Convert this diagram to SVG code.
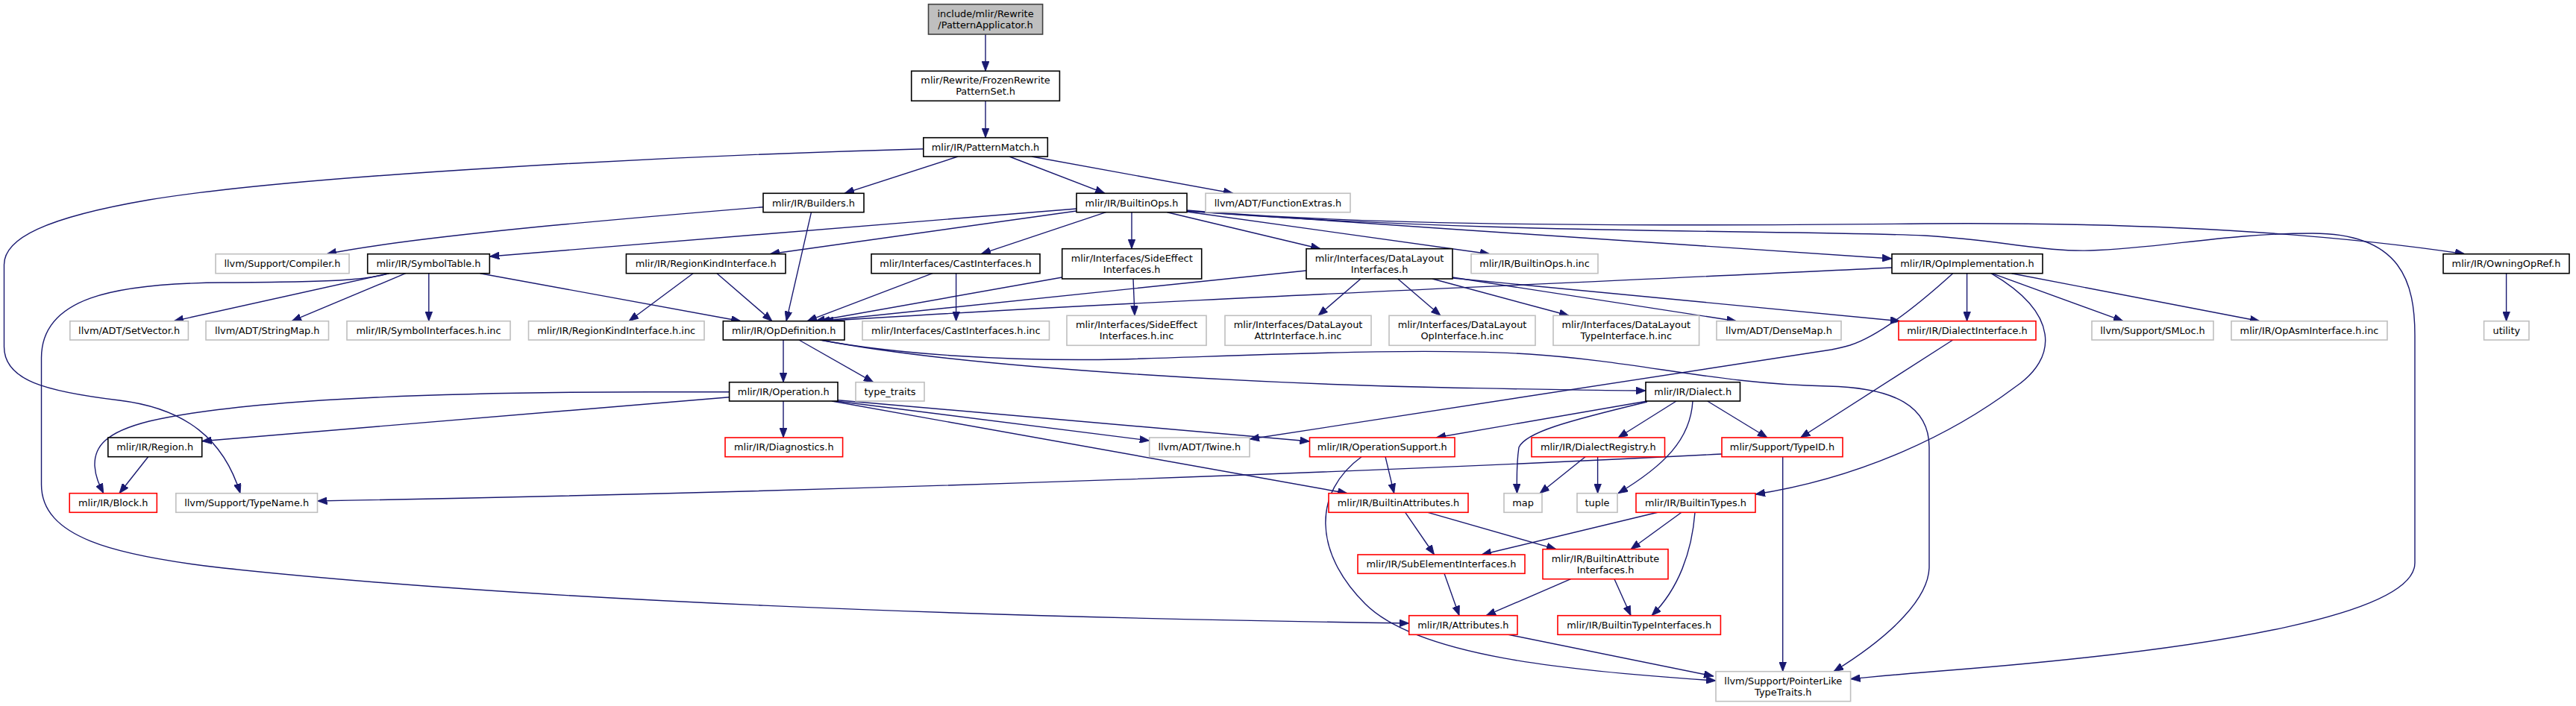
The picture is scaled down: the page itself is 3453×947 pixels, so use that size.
<svg xmlns="http://www.w3.org/2000/svg" width="3453" height="947" viewBox="0 0 3453 947">
<defs>
<style>
rect{fill:#ffffff;stroke:#000000;stroke-width:1.6}
.g rect{stroke:#bfbfbf}
.r rect{stroke:#ff0000}
.root rect{fill:#bfbfbf;stroke:#404040}
text{font-family:"DejaVu Sans","Liberation Sans",sans-serif;font-size:12.9px;text-anchor:middle;fill:#000000}
#edges path{fill:none;stroke:#191970;stroke-width:1.4;marker-end:url(#a)}
</style>
<marker id="a" markerUnits="userSpaceOnUse" markerWidth="13" markerHeight="10" refX="13" refY="5" orient="auto" viewBox="0 0 13 10"><path d="M0,0 L13,5 L0,10 z" fill="#191970" stroke="#191970" stroke-width="0.8"/></marker>
</defs>
<rect x="0" y="0" width="3453" height="947" style="fill:#ffffff;stroke:none"/>
<g id="edges">
<path d="M1321,46 L1321,95.3"/>
<path d="M1321,135.3 L1321,184.7"/>
<path d="M1284,210 L1132,259.3"/>
<path d="M1353,210 L1481,259.3"/>
<path d="M1383,210 L1653,259.3"/>
<path d="M1238,199.7 C900,209 400,235 200,268 C60,292 5.5,320 5.5,355 L5.5,465 C5.5,510 60,525 160,537 C250,548 300,590 322,661.7"/>
<path d="M1023,277.7 C850,292 560,316 438,340.7"/>
<path d="M1087.5,284.7 L1054,430.7"/>
<path d="M1443,280 L656.3,344"/>
<path d="M1443,283 L1032,340.7"/>
<path d="M1482.5,284.7 L1315,340.7"/>
<path d="M1517,284.7 L1517,333.7"/>
<path d="M1564.6,284.7 L1770,333.7"/>
<path d="M1591,284 L1997,340.7"/>
<path d="M1591,283 C1900,305 2300,330 2536,347"/>
<path d="M1591,282 C1800,300 2100,305 2580,300 C2850,298 3100,310 3304,340.7"/>
<path d="M1591,283 C2000,315 2400,308 2580,316 C2680,322 2740,338 2802,336 C2900,333 2980,313 3100,313 C3220,313 3237,380 3237,450 L3237,755 C3237,820 3000,870 2580,901.7 C2540,905 2510,908 2480.6,910.7"/>
<path d="M521.5,366.7 L233,430.7"/>
<path d="M543.7,366.7 L391,430.7"/>
<path d="M574.8,366.7 L574.8,430.7"/>
<path d="M643.6,366.7 L993,430.7"/>
<path d="M521.5,366.7 C490,376 450,378 300,379 C150,380 55.5,400 55.5,480 L55.5,650 C55.5,720 150,745 300,762 C700,805 1300,828 1888.7,836"/>
<path d="M929,366.7 L843,430.7"/>
<path d="M961,366.7 L1035,430.7"/>
<path d="M1250,366.7 L1082,430.7"/>
<path d="M1281.6,366.7 L1281.6,430.7"/>
<path d="M1423.7,372 L1093,430.7"/>
<path d="M1519,374 L1521,423.3"/>
<path d="M1751,363 L1099,430.7"/>
<path d="M1824,374 L1767,423.3"/>
<path d="M1873.7,374 L1931,423.3"/>
<path d="M1920,374 L2103,423.3"/>
<path d="M1947,372 L2327.5,430.7"/>
<path d="M1947,373 L2547,430.7"/>
<path d="M2536,359 C2100,380 1500,405 1104,430.7"/>
<path d="M2636.6,366.7 L2636.6,430.7"/>
<path d="M2670,366.7 L2846,430.7"/>
<path d="M2696.5,366.7 L3029,430.7"/>
<path d="M2617.7,366.7 C2570,410 2520,450 2480,463 C2470,466 2465,467 2455,469 L1675,589"/>
<path d="M2669,366.7 C2760,420 2760,480 2700,520 C2620,580 2500,640 2353,663"/>
<path d="M3359.6,366.7 L3359.6,430.7"/>
<path d="M1050,456 L1050,512.7"/>
<path d="M1071,456 L1170.7,512.7"/>
<path d="M1100,456 C1300,495 1700,515 1942,520 C2050,522 2150,524 2206,524"/>
<path d="M1099,456 C1200,475 1350,485 1500,482 C1700,476 1900,466 2050,475 C2200,485 2300,515 2450,518 C2540,520 2586,545 2586,600 L2586,760 C2586,800 2540,850 2458,900.7"/>
<path d="M1050,538 L1050,587"/>
<path d="M977.6,532.7 L270.7,591.7"/>
<path d="M977.6,525.7 L870,525.7 C600,526 330,535 200,565 C140,580 126,600 127,625 C128,640 133,650 138.7,661.7"/>
<path d="M1121,538 L1540.7,591"/>
<path d="M1115,538 L1806,661.7"/>
<path d="M1123,536.7 L1755.5,592"/>
<path d="M2208,538 L1925,587"/>
<path d="M2208,539 C2100,565 2045,580 2036,600 C2033,620 2033,640 2033.5,661.7"/>
<path d="M2247,538 L2169,587"/>
<path d="M2269,538 C2266,590 2230,625 2169,661.7"/>
<path d="M2288.7,538 L2369,587"/>
<path d="M2617.7,456 L2413.5,587"/>
<path d="M2308,609 C1900,630 1200,658 425.5,672"/>
<path d="M2389.7,612.7 L2389.7,900.7"/>
<path d="M2125,612.7 L2064,661.7"/>
<path d="M2141.6,612.7 L2141.6,661.7"/>
<path d="M1857,612.7 L1868.7,661.7"/>
<path d="M1825,612.7 C1760,660 1760,740 1830,810 C1900,880 2100,900 2300,913"/>
<path d="M1883.7,687.3 L1922.5,744"/>
<path d="M1914,687.3 L2086,736.7"/>
<path d="M2222,687.3 L1986,744"/>
<path d="M2254,687.3 L2186,736.7"/>
<path d="M2272,687.3 C2268,740 2250,790 2214,825.7"/>
<path d="M1936,769.3 L1956,825.7"/>
<path d="M2105.6,776.7 L1992,825.7"/>
<path d="M2164,776.7 L2186,825.7"/>
<path d="M2022,851.3 L2297,907"/>
<path d="M198.6,612.7 L160,661.7"/>
</g>
<g id="n1" class="root"><rect x="1244.5" y="5.7" width="153.1" height="40.3"/><text x="1321.05" y="22.7">include/mlir/Rewrite</text><text x="1321.05" y="38">/PatternApplicator.h</text></g>
<g id="n2"><rect x="1221.7" y="95.3" width="198.7" height="40"/><text x="1321.05" y="112.15">mlir/Rewrite/FrozenRewrite</text><text x="1321.05" y="127.45">PatternSet.h</text></g>
<g id="n3"><rect x="1237.8" y="184.7" width="166.5" height="25.3"/><text x="1321.05" y="201.85">mlir/IR/PatternMatch.h</text></g>
<g id="n4"><rect x="1023" y="259.3" width="135" height="25.4"/><text x="1090.5" y="276.5">mlir/IR/Builders.h</text></g>
<g id="n5"><rect x="1443" y="259.3" width="148" height="25.4"/><text x="1517" y="276.5">mlir/IR/BuiltinOps.h</text></g>
<g id="n6" class="g"><rect x="1616" y="259.3" width="194" height="25.4"/><text x="1713" y="276.5">llvm/ADT/FunctionExtras.h</text></g>
<g id="n7" class="g"><rect x="289" y="340.7" width="179" height="26"/><text x="378.5" y="358.2">llvm/Support/Compiler.h</text></g>
<g id="n8"><rect x="492.7" y="340.7" width="163.6" height="26"/><text x="574.5" y="358.2">mlir/IR/SymbolTable.h</text></g>
<g id="n9"><rect x="839.4" y="340.7" width="213.6" height="26"/><text x="946.2" y="358.2">mlir/IR/RegionKindInterface.h</text></g>
<g id="n10"><rect x="1168" y="340.7" width="226" height="26"/><text x="1281" y="358.2">mlir/Interfaces/CastInterfaces.h</text></g>
<g id="n11"><rect x="1423.7" y="333.7" width="187" height="40.3"/><text x="1517.2" y="350.7">mlir/Interfaces/SideEffect</text><text x="1517.2" y="366">Interfaces.h</text></g>
<g id="n12"><rect x="1751" y="333.7" width="196" height="40.3"/><text x="1849" y="350.7">mlir/Interfaces/DataLayout</text><text x="1849" y="366">Interfaces.h</text></g>
<g id="n13" class="g"><rect x="1972" y="340.7" width="170" height="26"/><text x="2057" y="358.2">mlir/IR/BuiltinOps.h.inc</text></g>
<g id="n14"><rect x="2536" y="340.7" width="202" height="26"/><text x="2637" y="358.2">mlir/IR/OpImplementation.h</text></g>
<g id="n15"><rect x="3275" y="340.7" width="169" height="26"/><text x="3359.5" y="358.2">mlir/IR/OwningOpRef.h</text></g>
<g id="n16" class="g"><rect x="93.8" y="430.7" width="158.6" height="25.3"/><text x="173.1" y="447.85">llvm/ADT/SetVector.h</text></g>
<g id="n17" class="g"><rect x="276" y="430.7" width="164.5" height="25.3"/><text x="358.25" y="447.85">llvm/ADT/StringMap.h</text></g>
<g id="n18" class="g"><rect x="465" y="430.7" width="219" height="25.3"/><text x="574.5" y="447.85">mlir/IR/SymbolInterfaces.h.inc</text></g>
<g id="n19" class="g"><rect x="708.5" y="430.7" width="235.5" height="25.3"/><text x="826.25" y="447.85">mlir/IR/RegionKindInterface.h.inc</text></g>
<g id="n20"><rect x="969.3" y="430.7" width="162.7" height="25.3"/><text x="1050.65" y="447.85">mlir/IR/OpDefinition.h</text></g>
<g id="n21" class="g"><rect x="1156" y="430.7" width="250.5" height="25.3"/><text x="1281.25" y="447.85">mlir/Interfaces/CastInterfaces.h.inc</text></g>
<g id="n22" class="g"><rect x="1430" y="423.3" width="187" height="40"/><text x="1523.5" y="440.15">mlir/Interfaces/SideEffect</text><text x="1523.5" y="455.45">Interfaces.h.inc</text></g>
<g id="n23" class="g"><rect x="1642" y="423.3" width="196" height="40"/><text x="1740" y="440.15">mlir/Interfaces/DataLayout</text><text x="1740" y="455.45">AttrInterface.h.inc</text></g>
<g id="n24" class="g"><rect x="1862" y="423.3" width="196" height="40"/><text x="1960" y="440.15">mlir/Interfaces/DataLayout</text><text x="1960" y="455.45">OpInterface.h.inc</text></g>
<g id="n25" class="g"><rect x="2082" y="423.3" width="195.6" height="40"/><text x="2179.8" y="440.15">mlir/Interfaces/DataLayout</text><text x="2179.8" y="455.45">TypeInterface.h.inc</text></g>
<g id="n26" class="g"><rect x="2301" y="430.7" width="167" height="25.3"/><text x="2384.5" y="447.85">llvm/ADT/DenseMap.h</text></g>
<g id="n27" class="r"><rect x="2545" y="430.7" width="184" height="25.3"/><text x="2637" y="447.85">mlir/IR/DialectInterface.h</text></g>
<g id="n28" class="g"><rect x="2804" y="430.7" width="163" height="25.3"/><text x="2885.5" y="447.85">llvm/Support/SMLoc.h</text></g>
<g id="n29" class="g"><rect x="2991" y="430.7" width="209" height="25.3"/><text x="3095.5" y="447.85">mlir/IR/OpAsmInterface.h.inc</text></g>
<g id="n30" class="g"><rect x="3329.6" y="430.7" width="60.4" height="25.3"/><text x="3359.8" y="447.85">utility</text></g>
<g id="n31"><rect x="977.6" y="512.7" width="145.4" height="25.3"/><text x="1050.3" y="529.85">mlir/IR/Operation.h</text></g>
<g id="n32" class="g"><rect x="1147" y="512.7" width="92" height="25.3"/><text x="1193" y="529.85">type_traits</text></g>
<g id="n33"><rect x="2206" y="512.7" width="126.5" height="25.3"/><text x="2269.25" y="529.85">mlir/IR/Dialect.h</text></g>
<g id="n34"><rect x="144.8" y="587" width="125.9" height="25.7"/><text x="207.75" y="604.35">mlir/IR/Region.h</text></g>
<g id="n35" class="r"><rect x="972" y="587" width="157.6" height="25.7"/><text x="1050.8" y="604.35">mlir/IR/Diagnostics.h</text></g>
<g id="n36" class="g"><rect x="1540.7" y="587" width="134.3" height="25.7"/><text x="1607.85" y="604.35">llvm/ADT/Twine.h</text></g>
<g id="n37" class="r"><rect x="1755.5" y="587" width="194.5" height="25.7"/><text x="1852.75" y="604.35">mlir/IR/OperationSupport.h</text></g>
<g id="n38" class="r"><rect x="2053" y="587" width="178.5" height="25.7"/><text x="2142.25" y="604.35">mlir/IR/DialectRegistry.h</text></g>
<g id="n39" class="r"><rect x="2308" y="587" width="162" height="25.7"/><text x="2389" y="604.35">mlir/Support/TypeID.h</text></g>
<g id="n40" class="r"><rect x="93.2" y="661.7" width="117.1" height="25.6"/><text x="151.75" y="679">mlir/IR/Block.h</text></g>
<g id="n41" class="g"><rect x="235.8" y="661.7" width="189.7" height="25.6"/><text x="330.65" y="679">llvm/Support/TypeName.h</text></g>
<g id="n42" class="r"><rect x="1781" y="661.7" width="187" height="25.6"/><text x="1874.5" y="679">mlir/IR/BuiltinAttributes.h</text></g>
<g id="n43" class="g"><rect x="2016" y="661.7" width="51" height="25.6"/><text x="2041.5" y="679">map</text></g>
<g id="n44" class="g"><rect x="2114" y="661.7" width="54" height="25.6"/><text x="2141" y="679">tuple</text></g>
<g id="n45" class="r"><rect x="2193" y="661.7" width="160" height="25.6"/><text x="2273" y="679">mlir/IR/BuiltinTypes.h</text></g>
<g id="n46" class="r"><rect x="1820" y="744" width="224" height="25.3"/><text x="1932" y="761.15">mlir/IR/SubElementInterfaces.h</text></g>
<g id="n47" class="r"><rect x="2068" y="736.7" width="168" height="40"/><text x="2152" y="753.55">mlir/IR/BuiltinAttribute</text><text x="2152" y="768.85">Interfaces.h</text></g>
<g id="n48" class="r"><rect x="1888.7" y="825.7" width="145.3" height="25.6"/><text x="1961.35" y="843">mlir/IR/Attributes.h</text></g>
<g id="n49" class="r"><rect x="2088" y="825.7" width="218.4" height="25.6"/><text x="2197.2" y="843">mlir/IR/BuiltinTypeInterfaces.h</text></g>
<g id="n50" class="g"><rect x="2300" y="900.7" width="180.6" height="40"/><text x="2390.3" y="917.55">llvm/Support/PointerLike</text><text x="2390.3" y="932.85">TypeTraits.h</text></g>
</svg>
